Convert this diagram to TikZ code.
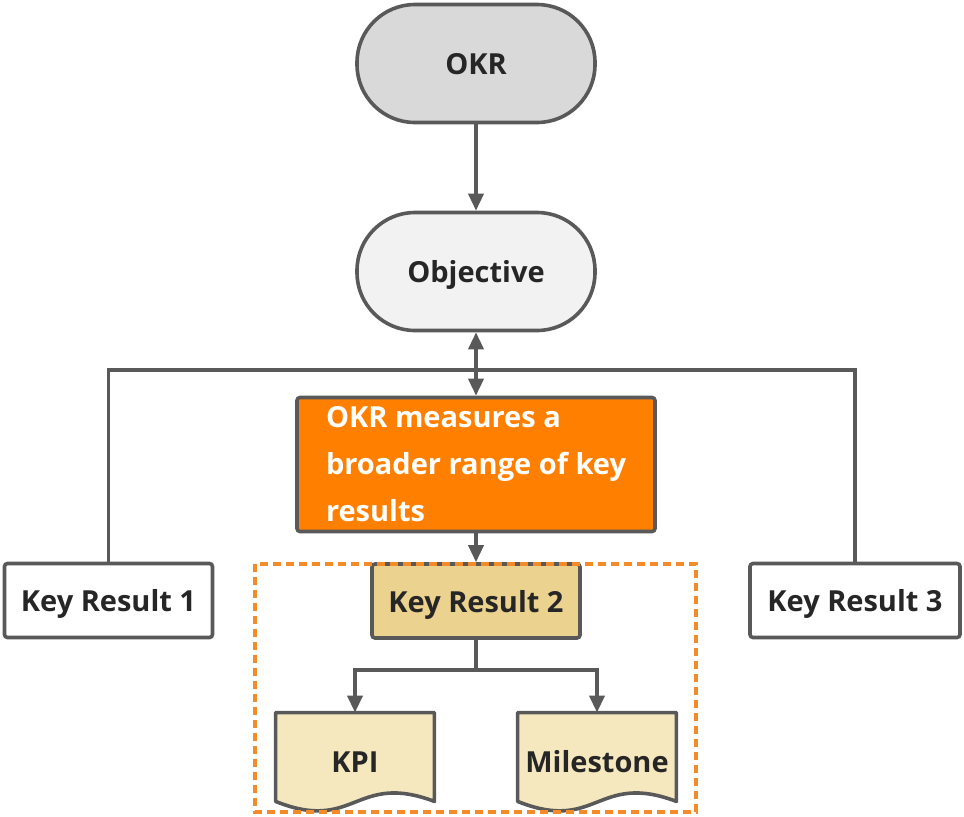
\documentclass[tikz,border=0pt]{standalone}
\usepackage{fontspec}
\setmainfont{Open Sans}
\usetikzlibrary{arrows.meta,calc,backgrounds}
\definecolor{edge}{RGB}{89,89,89}
\definecolor{ink}{RGB}{38,38,38}
\definecolor{okrfill}{RGB}{217,217,217}
\definecolor{objfill}{RGB}{242,242,242}
\definecolor{notefill}{RGB}{255,128,0}
\definecolor{krfill}{RGB}{236,210,143}
\definecolor{docfill}{RGB}{246,232,190}
\definecolor{grouporange}{RGB}{243,140,40}
\tikzset{
    term/.style={
        draw=edge,
        line width=1.8pt,
        rounded corners=29pt,
        minimum width=119pt,
        minimum height=59pt,
        text depth=0pt,
        text=ink,
        font=\fontsize{14.5}{17}\selectfont\bfseries
    },
    box/.style={
        draw=edge,
        line width=1.8pt,
        rounded corners=1.5pt,
        minimum width=104pt,
        minimum height=37pt,
        text depth=0pt,
        text=ink,
        font=\fontsize{14.5}{17}\selectfont\bfseries
    },
    note/.style={
        draw=edge,
        fill=notefill,
        line width=1.8pt,
        rounded corners=1.5pt,
        align=left,
        minimum width=179pt,
        minimum height=67pt,
        text=white,
        font=\fontsize{14.5}{23.5}\selectfont\bfseries
    },
    doc/.style={
        minimum width=79pt,
        minimum height=44pt,
        text height=15pt,
        text depth=0pt,
        text=ink,
        font=\fontsize{14.5}{17}\selectfont\bfseries
    },
    docline/.style={
        draw=edge,
        fill=docfill,
        line width=1.8pt,
        line join=round
    },
    link/.style={
        draw=edge,
        line width=1.8pt
    },
    arrow/.style={
        -{Triangle[length=8.5pt,width=7.5pt]},
        draw=edge,
        line width=1.8pt
    },
    dblarrow/.style={
        {Triangle[length=8.5pt,width=7.5pt]}-{Triangle[length=8.5pt,width=7.5pt]},
        draw=edge,
        line width=1.8pt
    },
    group/.style={
        draw=grouporange,
        line width=2pt,
        dash pattern=on 4pt off 2.5pt
    }
}
\begin{document}
\begin{tikzpicture}[x=0.5pt,y=-0.5pt]
\useasboundingbox (0,0) rectangle (964,816);

\node[term, fill=okrfill] (okr) at (476,63.5) {OKR};
\node[term, fill=objfill] (obj) at (476,271.5) {Objective};
\node[note] (measure) at (476,464.5) {OKR measures a\\broader range of key\\results};
\node[box, fill=white] (kr1) at (108.5,600.5) {Key Result 1};
\node[box, fill=krfill] (kr2) at (476,601) {Key Result 2};
\node[box, fill=white, minimum width=105pt] (kr3) at (855,600.5) {Key Result 3};
\node[doc] (kpi) at (355,757) {KPI};
\node[doc] (mile) at (597,757) {Milestone};
\coordinate (split) at (476,370);
\coordinate (fork) at (476,670);

\begin{pgfonlayer}{background}
\foreach \d in {kpi,mile}
    \draw[docline] (\d.south west) -- (\d.north west) -- (\d.north east) -- (\d.south east)
        .. controls ($(\d.south)+(0,-30)$) and ($(\d.south)+(0,32)$) .. (\d.south west) -- cycle;
\end{pgfonlayer}

\draw[arrow] (okr) -- (obj);
\draw[dblarrow] (obj) -- (measure);
\draw[link] (kr1.north) |- (split) -| (kr3.north);
\draw[arrow] (measure) -- (kr2);
\draw[link] (kr2) -- (fork);
\draw[arrow] (fork) -| (kpi.north);
\draw[arrow] (fork) -| (mile.north);

\draw[group] (255,564) rectangle (696,812);

\end{tikzpicture}
\end{document}
